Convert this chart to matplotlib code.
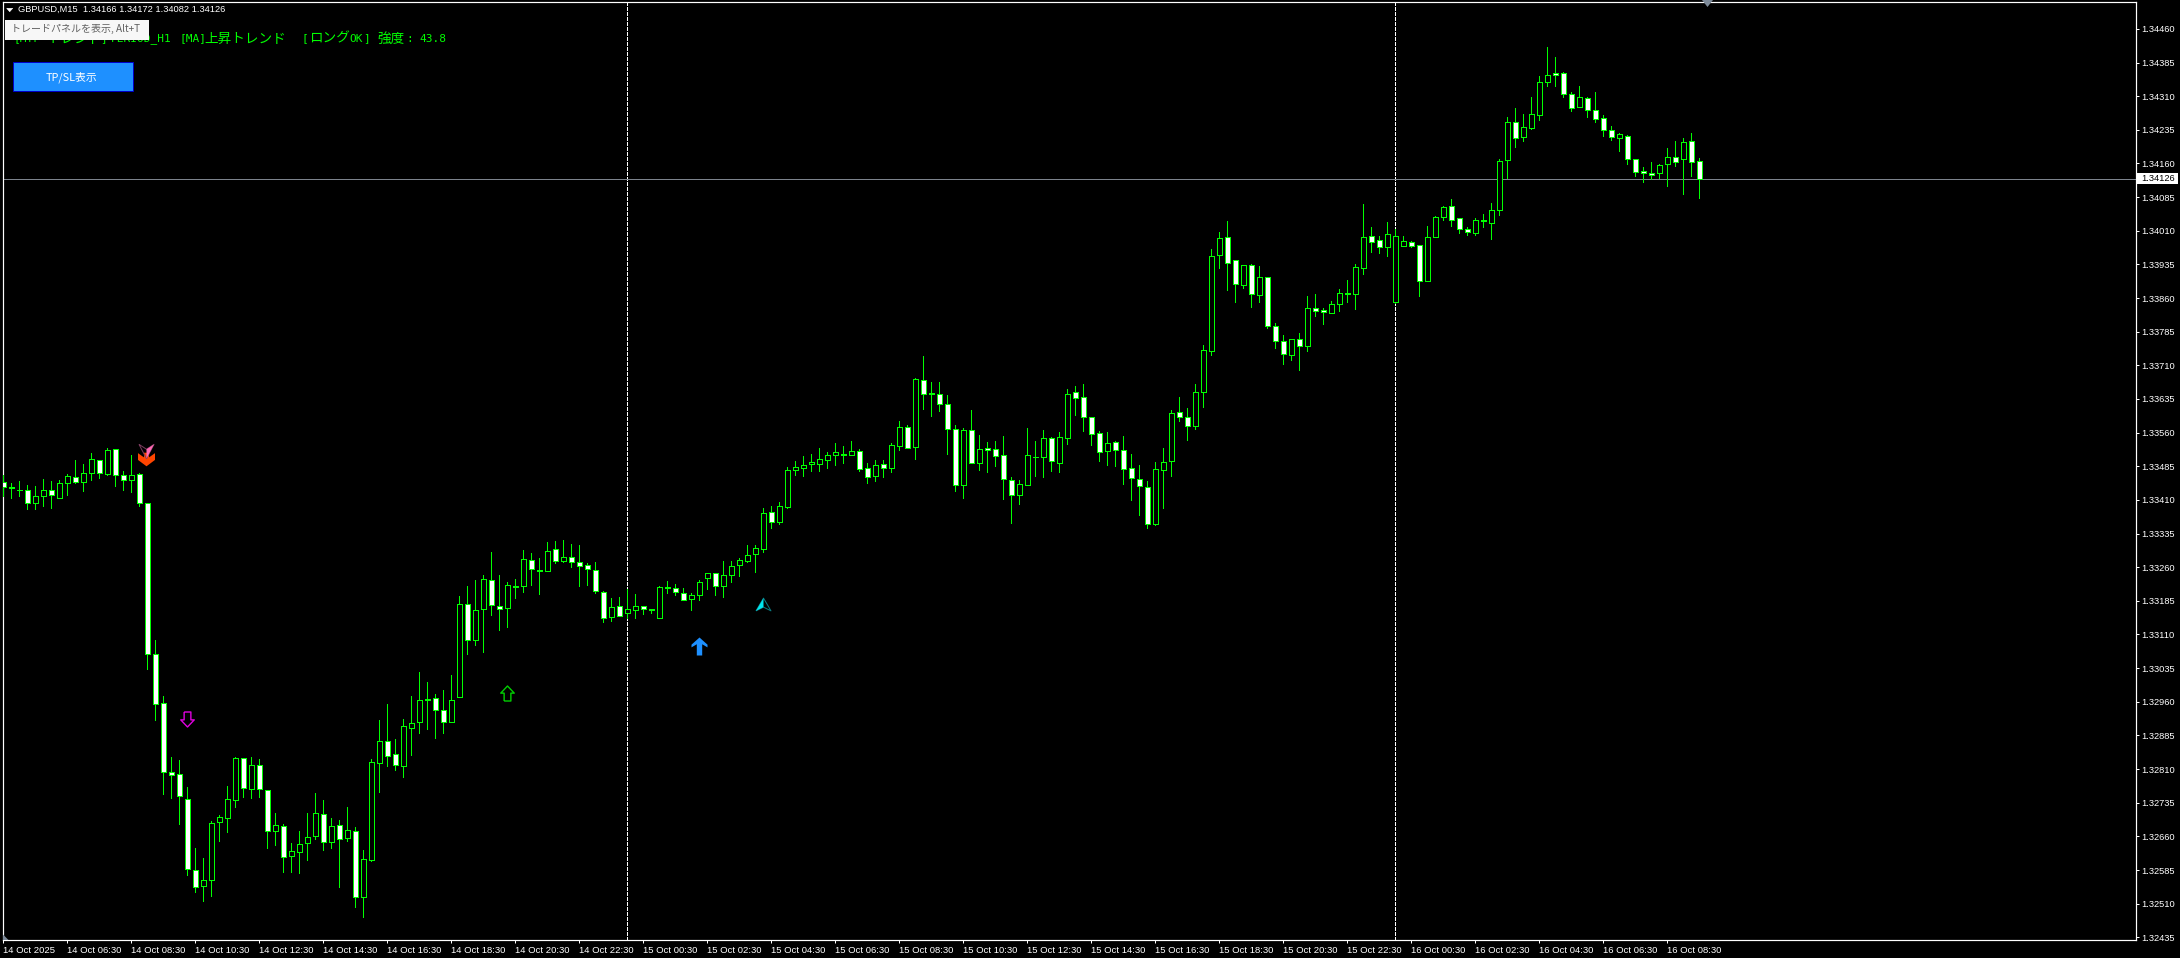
#!/usr/bin/env python

import matplotlib
matplotlib.use('Agg')
import matplotlib.pyplot as plt
from matplotlib.patches import Rectangle, Polygon
from matplotlib.path import Path
from matplotlib.transforms import blended_transform_factory

W, H = 2180, 958

# GBPUSD M15 candles, price x 100000
opens = [
    133451,133438,133433,133432,133402,133419,133432,133415,133447,133461,
    133451,133471,133498,133468,133523,133465,133455,133468,133402,133067,
    132957,132803,132798,132744,132585,132549,132562,132692,132701,132741,
    132834,132766,132820,132764,132672,132684,132616,132625,132645,132660,
    132709,132647,132686,132657,132673,132525,132608,132823,132872,132843,
    132816,132902,132914,132966,132968,132941,132916,132970,133178,133097,
    133166,133231,133173,133168,133218,133217,133276,133254,133251,133300,
    133274,133283,133271,133265,133254,133205,133148,133173,133157,133164,
    133173,133167,133146,133216,133213,133202,133190,133197,133237,133247,
    133217,133242,133264,133274,133289,133300,133383,133360,133395,133476,
    133482,133489,133491,133498,133511,133513,133509,133519,133481,133464,
    133490,133482,133531,133572,133527,133677,133648,133646,133624,133568,
    133444,133566,133493,133526,133523,133510,133454,133422,133444,133506,
    133505,133548,133493,133547,133650,133639,133595,133559,133518,133539,
    133521,133481,133456,133438,133357,133476,133496,133606,133595,133574,
    133650,133743,133955,133996,133944,133890,133933,133866,133907,133797,
    133764,133734,133768,133754,133837,133833,133826,133846,133871,133868,
    133928,133998,133989,133973,133852,133977,133985,133978,133899,133995,
    134040,134065,134038,134014,134006,134034,134028,134057,134167,134252,
    134218,134240,134269,134341,134362,134361,134315,134285,134306,134279,
    134261,134234,134216,134221,134170,134143,134138,134138,134158,134174,
    134169,134210,134166]
highs = [
    133466,133448,133452,133443,133441,133457,133452,133455,133468,133499,
    133491,133515,133498,133526,133524,133474,133511,133470,133402,133097,
    132972,132837,132830,132770,132635,132611,132694,132707,132772,132837,
    132834,132837,132832,132764,132713,132687,132646,132671,132713,132756,
    132740,132700,132696,132725,132680,132629,132832,132920,132955,132877,
    132921,132974,133027,133004,132977,132987,133020,133195,133219,133232,
    133243,133294,133243,133228,133234,133299,133292,133281,133317,133319,
    133321,133312,133310,133269,133272,133207,133192,133194,133212,133201,
    133173,133167,133219,133230,133223,133214,133202,133232,133247,133247,
    133274,133274,133281,133310,133310,133393,133397,133406,133484,133497,
    133508,133513,133526,133517,133537,133531,133542,133524,133493,133499,
    133499,133537,133586,133577,133682,133731,133673,133673,133644,133577,
    133571,133611,133555,133540,133542,133553,133462,133455,133571,133542,
    133566,133551,133562,133658,133664,133669,133595,133564,133562,133542,
    133553,133513,133488,133453,133495,133526,133611,133640,133615,133669,
    133756,133969,134008,134032,133944,133933,133936,133932,133907,133805,
    133778,133768,133782,133865,133869,133838,133854,133881,133901,133936,
    134070,134019,133999,134030,134014,133999,133988,133978,134021,134043,
    134066,134081,134038,134019,134039,134048,134072,134170,134263,134284,
    134271,134309,134355,134420,134398,134364,134320,134333,134308,134320,
    134268,134244,134228,134224,134170,134153,134164,134159,134195,134210,
    134217,134228,134172]
lows = [
    133418,133415,133419,133390,133390,133397,133392,133415,133421,133448,
    133430,133455,133459,133466,133442,133432,133428,133396,133034,132920,
    132754,132745,132687,132573,132537,132515,132526,132649,132669,132725,
    132747,132745,132747,132634,132640,132581,132581,132578,132607,132654,
    132629,132635,132548,132649,132503,132481,132605,132759,132816,132808,
    132792,132842,132891,132899,132879,132891,132916,132970,133067,133087,
    133071,133154,133121,133127,133192,133205,133221,133201,133251,133270,
    133272,133261,133219,133221,133203,133138,133141,133152,133146,133147,
    133156,133158,133146,133203,133199,133188,133165,133187,133212,133199,
    133194,133228,133241,133272,133250,133294,133348,133357,133392,133466,
    133464,133475,133475,133482,133488,133493,133509,133475,133448,133453,
    133462,133473,133522,133525,133502,133613,133598,133609,133513,133430,
    133415,133493,133477,133473,133486,133412,133359,133401,133444,133464,
    133462,133475,133473,133535,133600,133564,133533,133497,133488,133486,
    133446,133410,133377,133348,133354,133392,133464,133586,133544,133569,
    133618,133733,133927,133878,133852,133883,133840,133852,133794,133749,
    133713,133722,133700,133742,133820,133802,133826,133831,133852,133836,
    133914,133963,133961,133954,133849,133977,133974,133865,133899,133995,
    134034,134021,134005,134001,134001,134019,133992,134045,134128,134197,
    134210,134237,134257,134333,134333,134309,134277,134285,134264,134253,
    134222,134213,134188,134159,134132,134119,134125,134128,134110,134155,
    134092,134132,134082]
closes = [
    133438,133436,133432,133404,133418,133432,133420,133447,133463,133451,
    133470,133501,133471,133521,133465,133455,133465,133404,133067,132954,
    132804,132797,132750,132587,132547,132562,132690,132704,132744,132834,
    132768,132818,132766,132672,132686,132614,132627,132644,132659,132711,
    132647,132684,132654,132675,132525,132610,132825,132872,132840,132818,
    132905,132912,132964,132965,132941,132916,132964,133178,133097,133164,
    133233,133175,133166,133220,133216,133278,133255,133251,133296,133273,
    133283,133271,133262,133255,133206,133146,133171,133152,133167,133173,
    133166,133164,133216,133213,133204,133188,133198,133227,133247,133217,
    133242,133262,133276,133287,133303,133381,133360,133396,133476,133483,
    133488,133494,133501,133510,133517,133509,133519,133480,133462,133488,
    133482,133532,133572,133525,133679,133645,133645,133623,133567,133444,
    133566,133493,133523,133522,133507,133456,133422,133445,133510,133505,
    133548,133496,133550,133646,133638,133594,133556,133516,133537,133522,
    133480,133458,133440,133357,133479,133494,133603,133594,133574,133650,
    133744,133953,133994,133937,133892,133933,133868,133907,133797,133765,
    133736,133768,133754,133837,133832,133828,133846,133871,133868,133929,
    133996,133986,133973,134002,133998,133987,133977,133899,133996,134040,
    134063,134033,134013,134008,134034,134031,134056,134165,134252,134216,
    134241,134270,134341,134357,134358,134314,134283,134308,134280,134260,
    134234,134218,134225,134169,134142,134138,134135,134156,134174,134164,
    134208,134164,134126]

price_ticks = [134460 - 75*i for i in range(28)]

time_tick_labels = [
    '14 Oct 2025', '14 Oct 06:30', '14 Oct 08:30', '14 Oct 10:30', '14 Oct 12:30',
    '14 Oct 14:30', '14 Oct 16:30', '14 Oct 18:30', '14 Oct 20:30', '14 Oct 22:30',
    '15 Oct 00:30', '15 Oct 02:30', '15 Oct 04:30', '15 Oct 06:30', '15 Oct 08:30',
    '15 Oct 10:30', '15 Oct 12:30', '15 Oct 14:30', '15 Oct 16:30', '15 Oct 18:30',
    '15 Oct 20:30', '15 Oct 22:30', '16 Oct 00:30', '16 Oct 02:30', '16 Oct 04:30',
    '16 Oct 06:30', '16 Oct 08:30']
time_ticks = [8*i for i in range(len(time_tick_labels))]

separators = [78, 174]
last_price = 134126

# signal arrows: bar position, price
orange_down = (17.8, 133501)
pink_cursor = (17.85, 133520)
magenta_down = (22.9, 132921)
green_up = (63.0, 132979)
blue_up = (86.9, 133084)
cyan_cursor = (94.9, 133177)

LIME = '#00ff00'
FONT = 'Liberation Sans'
MONO = 'DejaVu Sans Mono'
CJK = ['Noto Sans CJK JP', 'DejaVu Sans']
PX = 72.0/100


def px(x, y):
    return x/W, 1 - y/H


def draw_candles(ax):
    x = list(range(len(opens)))
    ax.vlines(x, [v/1e5 for v in lows], [v/1e5 for v in highs],
              color=LIME, lw=PX, zorder=3, antialiased=False)
    for i in x:
        low = min(opens[i], closes[i])/1e5
        high = max(opens[i], closes[i])/1e5
        fill = 'white' if opens[i] > closes[i] else 'black'
        ax.bar(i, high - low, width=0.56, bottom=low, facecolor=fill,
               edgecolor=LIME, linewidth=PX*0.9, zorder=4, antialiased=False)


def draw_signals(ax):
    fat_down = Path([(0, -0.8), (1, -0.05), (1, 0.75), (0.3, 0.25), (0.3, 0.8),
                     (-0.3, 0.8), (-0.3, 0.25), (-1, 0.75), (-1, -0.05), (0, -0.8)])
    fat_up = Path([(0, 1), (0.89, 0.2), (0.89, -0.1), (0.3, 0.25), (0.3, -1),
                   (-0.3, -1), (-0.3, 0.25), (-0.89, -0.1), (-0.89, 0.2), (0, 1)])
    hollow_down = Path([(-0.45, 1), (0.45, 1), (0.45, -0.05), (0.9, -0.05), (0, -1),
                        (-0.9, -0.05), (-0.45, -0.05), (-0.45, 1)])
    hollow_up = Path([(-0.45, -1), (0.45, -1), (0.45, 0.05), (0.9, 0.05), (0, 1),
                      (-0.9, 0.05), (-0.45, 0.05), (-0.45, -1)])
    cursor_down = Path([(-1, 0.95), (0, 0.3), (1, 0.95), (0, -0.95), (-1, 0.95)])
    cursor_half_down = Path([(0, 0.3), (1, 0.95), (0, -0.95), (0, 0.3)])
    cursor_up = Path([(-1, -0.85), (0, -0.35), (1, -0.85), (0, 0.85), (-1, -0.85)])
    cursor_half_up = Path([(0, -0.35), (-1, -0.85), (0, 0.85), (0, -0.35)])

    def mark(pos, path, size, face, edge, lw, z=6):
        ax.plot([pos[0]], [pos[1]/1e5], marker=path, markersize=size*PX,
                markerfacecolor=face, markeredgecolor=edge, markeredgewidth=lw,
                linestyle='none', zorder=z, clip_on=False)

    mark(orange_down, fat_down, 17, '#ff4500', '#ff4500', 0)
    mark(pink_cursor, cursor_down, 15, 'none', '#7a3a5c', PX, z=7)
    mark(pink_cursor, cursor_half_down, 15, '#ff69b4', '#ff69b4', 0, z=7)
    mark(magenta_down, hollow_down, 15, 'black', '#e000e0', 1.0)
    mark(green_up, hollow_up, 15, 'black', '#00d000', 1.0)
    mark(blue_up, fat_up, 18, '#1e90ff', '#1e90ff', 0)
    mark(cyan_cursor, cursor_up, 15, 'none', '#0a7a80', PX)
    mark(cyan_cursor, cursor_half_up, 15, '#00e5ee', '#00e5ee', 0)


def draw_overlay(fig):
    # header text
    fig.add_artist(Polygon([px(6.7, 8.3), px(12.7, 8.3), px(9.7, 11.7)], closed=True,
                           transform=fig.transFigure, facecolor='white', edgecolor='white',
                           linewidth=0.4, zorder=5))
    fig.text(*px(18.3, 9.7), 'GBPUSD,M15  1.34166 1.34172 1.34082 1.34126', color='white',
             fontsize=6.7, family=FONT, va='center', ha='left', zorder=6)
    # status line, laid out in runs since the terminal font is monospaced
    for x, s in [(14, '[MTF'), (100, ']'), (111, 'PERIOD_H1'), (179, '[MA]'),
                 (302, '['), (349, 'OK'), (363, ']'), (406, ':'), (419, '43.8')]:
        fig.text(*px(x, 38.5), s, color=LIME, fontsize=8, family=MONO,
                 va='center', ha='left', zorder=5)
    for x, s in [(47, 'トレンド'), (204, '上昇トレンド'), (309, 'ロング'), (377, '強度')]:
        fig.text(*px(x, 38.5), s, color=LIME, fontsize=9.8, family=CJK,
                 va='center', ha='left', zorder=5)
    # tooltip
    x0, y0 = px(5.3, 40)
    x1, y1 = px(148.7, 20)
    fig.add_artist(Rectangle((x0, y0), x1 - x0, y1 - y0, transform=fig.transFigure,
                             facecolor='#f7f7f7', edgecolor='none', zorder=7))
    fig.text(*px(11, 29.3), 'トレードパネルを表示, Alt+T', color='#606060', fontsize=7.2,
             family=CJK, va='center', ha='left', zorder=8)
    # button
    x0, y0 = px(13.3, 91.3)
    x1, y1 = px(132.7, 62.3)
    fig.add_artist(Rectangle((x0, y0), x1 - x0, y1 - y0, transform=fig.transFigure,
                             facecolor='#1e90ff', edgecolor='#0000c8', linewidth=PX, zorder=7))
    fig.text(*px(72, 77), 'TP/SL表示', color='white', fontsize=7.8, family=CJK,
             va='center', ha='center', zorder=8)


def main():
    fig = plt.figure(figsize=(W/100, H/100), dpi=100, facecolor='black')
    left, right, top, bottom = 2.5, 2135.5, 1.5, 940.0
    ax = fig.add_axes([left/W, 1 - bottom/H, (right - left)/W, (bottom - top)/H], facecolor='black')
    ax.set_xlim((left - 3.33)/8, (right - 3.33)/8)
    ax.set_ylim(1.32429, 1.34521)

    for s in ax.spines.values():
        s.set_color('white')
        s.set_linewidth(PX*1.2)

    for x in separators:
        ax.axvline(x, color='white', lw=PX, dashes=(3, 2), zorder=1, antialiased=False)
    ax.axhline(last_price/1e5, color='#7c838c', lw=PX, zorder=2)

    draw_candles(ax)
    draw_signals(ax)

    ax.yaxis.tick_right()
    ax.set_yticks([p/1e5 for p in price_ticks])
    ax.set_yticklabels(['%.5f' % (p/1e5) for p in price_ticks], family=FONT, fontsize=6.7, color='white')
    ax.set_xticks(time_ticks)
    ax.set_xticklabels(time_tick_labels, family=FONT, fontsize=6.8, color='white', ha='left')
    ax.tick_params(axis='y', length=3*PX, width=PX, color='white', pad=2.2)
    ax.tick_params(axis='x', length=3*PX, width=PX, color='white', pad=2.5)

    # current price box on the axis
    trans = blended_transform_factory(ax.transAxes, ax.transData)
    ax.add_patch(Rectangle((1.0005, last_price/1e5 - 0.00012), 41.0/(right - left), 0.00024,
                           transform=trans, facecolor='white', edgecolor='none',
                           clip_on=False, zorder=8))
    ax.text(1.0027, last_price/1e5, '%.5f' % (last_price/1e5), transform=trans, color='black',
            family=FONT, fontsize=6.7, va='center', ha='left', clip_on=False, zorder=9)

    # small shift markers on the frame edges
    fig.add_artist(Polygon([px(1702, 0), px(1713, 0), px(1707.5, 7)], closed=True,
                           transform=fig.transFigure, facecolor='#7d8a99', edgecolor='none', zorder=5))
    fig.add_artist(Polygon([px(3, 934.5), px(8.5, 940), px(3, 940)], closed=True,
                           transform=fig.transFigure, facecolor='#7d8a99', edgecolor='none', zorder=5))

    draw_overlay(fig)
    fig.savefig('out.png', dpi=100, facecolor='black')


if __name__ == '__main__':
    main()
